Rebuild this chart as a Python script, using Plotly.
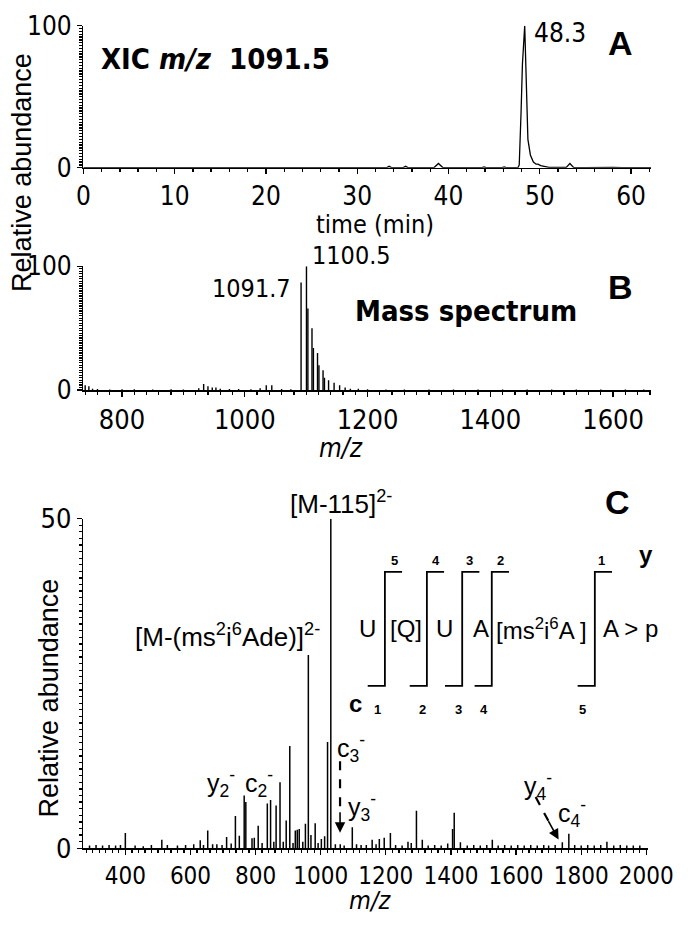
import plotly.graph_objects as go

W, H = 700, 928

# ---------------- data ----------------
# Panel A: extracted ion chromatogram m/z 1091.5
xic_time = [0, 5, 5.2, 5.4, 10, 20, 30, 33.2, 33.5, 33.8, 35, 35.3, 35.6, 38.4, 38.9, 39.4,
            43.6, 43.9, 44.2, 45.8, 46.1, 46.4, 47.6, 47.75, 47.95, 48.1, 48.35, 48.55, 48.7,
            48.97, 49.3, 49.6, 49.8, 50.1, 50.4, 51, 52.9, 53.3, 53.7, 55, 58, 59, 62.2]
xic_intensity = [0, 0, 0.5, 0, 0, 0, 0, 0, 1, 0, 0, 1, 0, 0, 3, 0,
                 0, 0.6, 0, 0, 0.6, 0, 0, 2, 39, 73, 100, 61, 20,
                 9, 4, 2.5, 2.5, 1.5, 1, 0.3, 0.3, 3, 0.3, 0, 0.3, 0, 0]

# Panel B: full mass spectrum
ms1_mz = [740, 746, 752, 760, 780, 800, 820, 850, 880, 900, 925, 933, 940, 947, 953, 960, 975,
          990, 1010, 1025, 1035, 1044, 1060, 1075, 1091.7, 1100.5, 1102.8, 1109.5, 1111.8,
          1118.5, 1120.8, 1127.5, 1129.8, 1136.5, 1145.5, 1154.5, 1163.5, 1172, 1185, 1200,
          1230, 1260, 1300, 1340, 1380, 1420, 1460, 1500, 1540, 1580, 1620, 1650]
ms1_intensity = [4, 3, 1, 0.8, 0.5, 0.6, 0.6, 0.5, 0.6, 0.5, 1.5, 5, 3, 2, 2, 1, 0.8,
                 0.8, 0.7, 1.5, 4, 4, 0.8, 0.6, 87, 100, 66, 50, 34,
                 30, 20, 16, 10, 8, 6, 4, 2, 1, 1, 0.6,
                 0.5, 0.5, 0.5, 0.5, 0.5, 0.5, 0.5, 0.5, 0.5, 0.5, 0.5, 0.5]

# Panel C: CID product ion spectrum
ms2_mz = [290, 310, 330, 350, 370, 385, 400, 430, 455, 480, 512, 529, 560, 585, 610, 630, 640,
          653, 668, 681, 697, 711, 725, 738, 750, 765, 770, 789, 796, 808, 820, 836, 846, 856,
          863, 875, 885, 894, 905, 915, 922, 928, 934, 945, 953, 962, 970, 983, 992, 1002,
          1012, 1021, 1031, 1045, 1060, 1072, 1097, 1110, 1124, 1140, 1158, 1170, 1180, 1195,
          1214, 1230, 1250, 1268, 1278, 1294, 1312, 1330, 1350, 1370, 1390, 1405, 1410, 1429,
          1450, 1470, 1490, 1510, 1527, 1545, 1565, 1585, 1605, 1625, 1645, 1665, 1685, 1700,
          1720, 1742, 1762, 1780, 1800, 1820, 1840, 1860, 1879, 1900, 1920, 1940, 1960, 1980]
ms2_intensity = [0.4, 0.5, 0.4, 0.5, 0.4, 0.5, 2.3, 0.4, 0.3, 0.5, 1.3, 0.5, 0.4, 0.5, 0.6, 1.2, 0.5,
                 2.7, 0.6, 0.6, 0.5, 1.7, 0.7, 4.9, 1.9, 8.0, 7.0, 1.5, 1.6, 3.4, 0.8, 6.8, 7.3, 1.0,
                 6.5, 10.0, 1.0, 4.2, 15.5, 0.8, 2.7, 2.8, 2.9, 1.0, 3.7, 29.3, 2.0, 3.8, 0.8, 1.4,
                 1.8, 16.1, 50, 0.6, 0.6, 0.4, 3.2, 0.6, 0.5, 0.5, 1.3, 0.6, 1.4, 1.6,
                 2.3, 0.5, 0.4, 1.0, 0.8, 5.7, 1.3, 0.4, 0.5, 0.4, 0.7, 2.9, 5.4, 0.9,
                 0.4, 0.5, 0.4, 0.5, 1.3, 0.4, 0.5, 0.4, 0.5, 0.4, 0.5, 0.4, 0.5, 0.4,
                 0.5, 0.9, 2.2, 0.5, 0.4, 0.5, 0.4, 0.5, 1.0, 0.4, 0.5, 0.4, 0.4, 0.4]

xic_ticks = [0, 10, 20, 30, 40, 50, 60]
ms1_ticks = [800, 1000, 1200, 1400, 1600]
ms2_ticks = [400, 600, 800, 1000, 1200, 1400, 1600, 1800, 2000]

# ---------------- helpers ----------------
def px(x):
    return x / W

def py(y):
    return 1 - y / H

def sticks(mz, inten):
    xs, ys = [], []
    for m, v in zip(mz, inten):
        xs += [m, m, None]
        ys += [0, v, None]
    return xs, ys

NARROW = "DejaVu Sans Condensed, Liberation Sans Narrow, Arial Narrow, Liberation Sans, Arial"
SANS = "Liberation Sans, Arial, sans-serif"

fig = go.Figure()

fig.add_trace(go.Scatter(x=xic_time, y=xic_intensity, mode="lines",
                         line=dict(color="black", width=1.3), xaxis="x", yaxis="y",
                         showlegend=False, hoverinfo="skip"))
bx, by = sticks(ms1_mz, ms1_intensity)
fig.add_trace(go.Scatter(x=bx, y=by, mode="lines", line=dict(color="black", width=1.4),
                         xaxis="x2", yaxis="y2", showlegend=False, hoverinfo="skip"))
cx, cy = sticks(ms2_mz, ms2_intensity)
fig.add_trace(go.Scatter(x=cx, y=cy, mode="lines", line=dict(color="black", width=1.5),
                         xaxis="x3", yaxis="y3", showlegend=False, hoverinfo="skip"))

def axis_style(size):
    return dict(showline=True, linecolor="black", linewidth=1.5, showgrid=False,
                zeroline=False, ticks="outside", ticklen=5, tickwidth=1.3,
                tickcolor="black", ticklabeloverflow="allow",
                tickfont=dict(family=NARROW, size=size, color="black"))

def minor(d):
    return dict(dtick=d, ticks="outside", ticklen=3, tickcolor="black")

fig.update_layout(
    width=W, height=H, margin=dict(l=0, r=0, t=0, b=0),
    paper_bgcolor="white", plot_bgcolor="white",
    xaxis=dict(domain=[px(80), px(675)], range=[0, 62.2], anchor="y", tickvals=xic_ticks,
               minor=minor(2), **axis_style(26)),
    yaxis=dict(domain=[py(157), py(10)], range=[0, 100], anchor="x", tickvals=[0, 100],
               minor=minor(2), **axis_style(26)),
    xaxis2=dict(domain=[px(80), px(675)], range=[737, 1662], anchor="y2", tickvals=ms1_ticks,
                minor=minor(20), **axis_style(27)),
    yaxis2=dict(domain=[py(387), py(259)], range=[0, 100], anchor="x2", tickvals=[0, 100],
                minor=minor(2), **axis_style(26)),
    xaxis3=dict(domain=[px(80), px(672)], range=[271, 2006], anchor="y3", tickvals=ms2_ticks,
                minor=minor(20), **axis_style(24)),
    yaxis3=dict(domain=[py(861), py(520)], range=[0, 50], anchor="x3", tickvals=[0, 50],
                minor=minor(1), **axis_style(27)),
)

ann = []

def text(x, y, s, size=20, family=SANS, bold=False, xanchor="center", angle=0):
    if bold:
        s = "<b>" + s + "</b>"
    ann.append(dict(x=px(x), y=py(y), xref="paper", yref="paper", text=s, showarrow=False,
                    xanchor=xanchor, yanchor="middle", textangle=angle,
                    font=dict(family=family, size=size, color="black")))

# axis titles
text(15, 162, "Relative abundance", size=27, angle=-90)
text(44, 705, "Relative abundance", size=27, angle=-90)
text(386, 216, "time (min)", size=25, family=NARROW)
text(350, 447, "<i>m/z</i>", size=26, family=NARROW)
text(380, 915, "<i>m/z</i>", size=25, family=NARROW)

# panel A
text(96, 45, "XIC <i>m/z</i>&nbsp; 1091.5", size=29, family=NARROW, bold=True, xanchor="left")
text(550, 18, "48.3", size=26, family=NARROW, xanchor="left")
text(643, 28, "A", size=34, bold=True)

# panel B
text(300, 282, "1091.7", size=25, family=NARROW, xanchor="right")
text(318, 248, "1100.5", size=25, family=NARROW, xanchor="left")
text(481, 305, "Mass spectrum", size=29, family=NARROW, bold=True)
text(643, 280, "B", size=34, bold=True)

# panel C
text(640, 503, "C", size=34, bold=True)
text(350, 503, "[M-115]<sup>2-</sup>", size=26)
text(231, 641, "[M-(ms<sup>2</sup>i<sup>6</sup>Ade)]<sup>2-</sup>", size=26)
text(360, 757, "c<sub>3</sub><sup>-</sup>", size=25)
text(372, 818, "y<sub>3</sub><sup>-</sup>", size=25)
text(224, 793, "y<sub>2</sub><sup>-</sup>", size=25)
text(264, 793, "c<sub>2</sub><sup>-</sup>", size=25)
text(556, 797, "y<sub>4</sub><sup>-</sup>", size=25)
text(592, 825, "c<sub>4</sub><sup>-</sup>", size=25)

# sequence diagram
text(670, 557, "y", size=24, bold=True)
text(365, 711, "c", size=24, bold=True)
for xx, s in zip([406, 450, 485, 517, 623], ["5", "4", "3", "2", "1"]):
    text(xx, 563, s, size=13, bold=True)
for xx, s in zip([388, 435, 473, 500, 603], ["1", "2", "3", "4", "5"]):
    text(xx, 717, s, size=13, bold=True)
for xx, s in zip([378, 418, 458, 497, 560, 653],
                 ["U", "[Q]", "U", "A", "[ms<sup>2</sup>i<sup>6</sup>A ]", "A &gt; p"]):
    text(xx, 634, s, size=24)

shapes = []
for xv in [396, 440, 477, 508, 616]:
    path = "M {a},{b} L {c},{b} L {c},{d} L {e},{d}".format(
        a=px(xv - 18), b=py(693), c=px(xv), d=py(575), e=px(xv + 18))
    shapes.append(dict(type="path", path=path, xref="paper", yref="paper",
                       line=dict(color="black", width=1.8)))

# dashed arrows
shapes.append(dict(type="line", xref="paper", yref="paper", x0=px(349), y0=py(771),
                   x1=px(349), y1=py(826), line=dict(color="black", width=2.2, dash="dash")))
shapes.append(dict(type="line", xref="paper", yref="paper", x0=px(554), y0=py(808),
                   x1=px(568), y1=py(834), line=dict(color="black", width=2.2, dash="dash")))
ann.append(dict(x=px(349), y=py(845), ax=0, ay=-22, xref="paper", yref="paper",
                axref="pixel", ayref="pixel", showarrow=True, arrowhead=2, arrowsize=1.3,
                arrowwidth=1.6, arrowcolor="black", text=""))
ann.append(dict(x=px(578), y=py(852), ax=-11, ay=-20, xref="paper", yref="paper",
                axref="pixel", ayref="pixel", showarrow=True, arrowhead=2, arrowsize=1.3,
                arrowwidth=1.6, arrowcolor="black", text=""))

fig.update_layout(annotations=ann, shapes=shapes)
fig.write_html("out.html", config={"displayModeBar": False, "staticPlot": True},
               post_script="document.body.style.margin='0';document.body.style.overflow='hidden';")
